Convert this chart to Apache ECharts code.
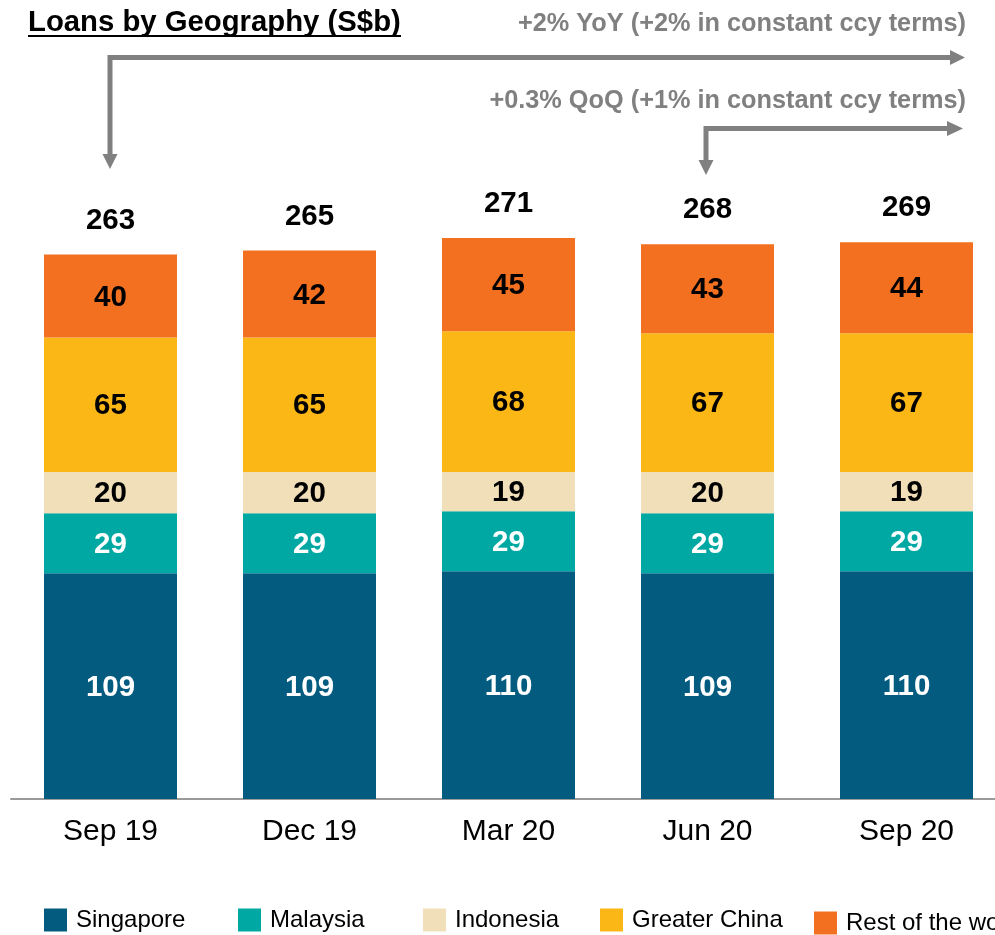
<!DOCTYPE html>
<html>
<head>
<meta charset="utf-8">
<script src="https://cdn.jsdelivr.net/npm/echarts@6/dist/echarts.min.js"></script>
<style>
html,body{margin:0;padding:0;background:#fff;}
#chart{width:995px;height:935px;}
</style>
</head>
<body>
<div id="chart"></div>
<script>
const categories = ['Sep 19', 'Dec 19', 'Mar 20', 'Jun 20', 'Sep 20'];
const singapore = [109, 109, 110, 109, 110];
const malaysia = [29, 29, 29, 29, 29];
const indonesia = [20, 20, 19, 20, 19];
const greaterChina = [65, 65, 68, 67, 67];
const restOfWorld = [40, 42, 45, 43, 44];
const totals = [263, 265, 271, 268, 269];
const titleText = 'Loans by Geography (S$b)';
const yoyText = '+2% YoY (+2% in constant ccy terms)';
const qoqText = '+0.3% QoQ (+1% in constant ccy terms)';

const FONT = '"Liberation Sans", Arial, sans-serif';
const GRAY = '#808080';

const seriesDefs = [
  { name: 'Singapore', data: singapore, color: '#035C80', label: '#ffffff' },
  { name: 'Malaysia', data: malaysia, color: '#00A8A3', label: '#ffffff' },
  { name: 'Indonesia', data: indonesia, color: '#F0DFB9', label: '#000000' },
  { name: 'Greater China', data: greaterChina, color: '#FBB716', label: '#000000' },
  { name: 'Rest of the world', data: restOfWorld, color: '#F37021', label: '#000000' }
];

const legendLefts = [44, 238, 423, 600, 814];
const legendTops = [908, 908, 908, 908, 911];

const chart = echarts.init(document.getElementById('chart'), null, { renderer: 'canvas' });

const series = seriesDefs.map(s => ({
  name: s.name,
  type: 'bar',
  stack: 'loans',
  barWidth: 133,
  data: s.data,
  itemStyle: { color: s.color },
  label: {
    show: true,
    position: 'inside',
    offset: [0, 1.5],
    color: s.label,
    fontFamily: FONT,
    fontWeight: 'bold',
    fontSize: 29.5
  },
  z: 3
}));

series.push({
  name: 'Total',
  type: 'bar',
  barWidth: 133,
  barGap: '-100%',
  data: totals,
  silent: true,
  itemStyle: { color: 'rgba(0,0,0,0)' },
  label: {
    show: true,
    position: 'top',
    distance: 19,
    color: '#000',
    fontFamily: FONT,
    fontWeight: 'bold',
    fontSize: 29.5
  },
  z: 1
});

const legends = seriesDefs.map((s, i) => ({
  data: [s.name],
  left: legendLefts[i],
  top: legendTops[i],
  padding: 0,
  itemWidth: 23,
  itemHeight: 23,
  icon: 'rect',
  selectedMode: false,
  textStyle: { fontFamily: FONT, fontSize: 24, color: '#000', padding: [0, 0, 0, 4] }
}));

const arrowStyle = { stroke: GRAY, lineWidth: 5, fill: null };

const option = {
  animation: false,
  backgroundColor: '#ffffff',
  grid: { left: 11, right: -11, top: 178, bottom: 136, containLabel: false, outerBoundsMode: 'none' },
  legend: legends,
  xAxis: {
    type: 'category',
    data: categories,
    axisLine: { show: true, lineStyle: { color: '#9a9a9a', width: 2 } },
    axisTick: { show: false },
    axisLabel: { margin: 18, color: '#000', fontFamily: FONT, fontSize: 30 }
  },
  yAxis: {
    type: 'value',
    min: 0,
    max: 300,
    show: false,
    splitLine: { show: false }
  },
  series: series,
  graphic: [
    {
      type: 'text', left: 28, top: 8,
      style: { text: titleText, fill: '#000', font: 'bold 29.3px ' + FONT }
    },
    {
      type: 'line', shape: { x1: 28, y1: 36, x2: 401, y2: 36 },
      style: { stroke: '#000', lineWidth: 2 }
    },
    {
      type: 'text', x: 966, y: 24,
      style: { text: yoyText, fill: GRAY, font: 'bold 25.3px ' + FONT, align: 'right', verticalAlign: 'middle' }
    },
    {
      type: 'text', x: 966, y: 101,
      style: { text: qoqText, fill: GRAY, font: 'bold 25.3px ' + FONT, align: 'right', verticalAlign: 'middle' }
    },
    {
      type: 'polyline', shape: { points: [[110, 155], [110, 57.5], [951, 57.5]] },
      style: arrowStyle
    },
    {
      type: 'polygon', shape: { points: [[102.5, 154], [117.5, 154], [110, 169]] },
      style: { fill: GRAY }
    },
    {
      type: 'polygon', shape: { points: [[950, 50], [950, 65], [965, 57.5]] },
      style: { fill: GRAY }
    },
    {
      type: 'polyline', shape: { points: [[706, 161], [706, 128.5], [948, 128.5]] },
      style: arrowStyle
    },
    {
      type: 'polygon', shape: { points: [[698.5, 160], [713.5, 160], [706, 175]] },
      style: { fill: GRAY }
    },
    {
      type: 'polygon', shape: { points: [[947, 121], [947, 136], [963, 128.5]] },
      style: { fill: GRAY }
    }
  ]
};

chart.setOption(option);
</script>
</body>
</html>
